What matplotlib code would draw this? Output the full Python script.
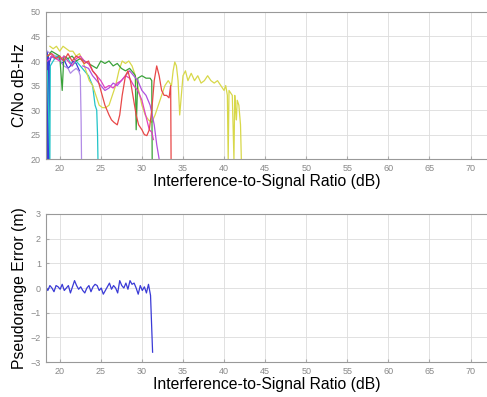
import matplotlib
matplotlib.use("Agg")
import matplotlib.pyplot as plt

plt.rcParams['font.family'] = ['Liberation Sans', 'DejaVu Sans']

# C/No traces (dB-Hz) vs interference-to-signal ratio (dB)
blue_x = [18.3, 18.35, 18.4, 18.45, 18.5, 18.55, 18.6, 18.7, 18.75, 18.8, 19.0, 19.4, 19.8, 20.2, 20.6, 21.0, 21.3, 21.6, 22.0, 22.4]
blue_y = [44, 43, 20, 42, 20, 41, 40, 20, 40, 40, 41, 40.5, 41, 39.5, 40, 38.5, 39, 40, 39.5, 38]

violet_x = [18.4, 19.0, 19.5, 20.0, 20.5, 21.0, 21.3, 21.6, 22.0, 22.3, 22.5, 22.6, 22.65]
violet_y = [42, 41.5, 41, 40, 39, 38.5, 37.5, 38, 38.5, 38, 37, 28, 20]

cyan_x = [18.5, 18.8, 18.85, 19.2, 19.6, 20.0, 20.5, 21.0, 21.5, 22.0, 22.5, 23.0, 23.5, 24.0, 24.3, 24.5, 24.6, 24.65]
cyan_y = [38, 20, 39, 40, 41, 40.5, 40, 40.5, 39, 40, 39, 38, 37, 35, 31, 30, 25, 20]

green_x = [18.6, 19.0, 19.5, 20.0, 20.3, 20.5, 21.0, 21.5, 22.0, 22.5, 23.0, 23.5, 24.0, 24.5, 25.0, 25.5, 26.0, 26.5,
           27.0, 27.5, 28.0, 28.5, 29.0, 29.2, 29.3, 29.5, 30.0, 30.5, 31.0, 31.2, 31.25]
green_y = [41, 42, 41.5, 41, 34, 41, 40.5, 41, 40, 40.5, 40, 39.5, 39, 38.5, 40, 39.5, 40, 39,
           39.5, 38.5, 38, 38.5, 37.5, 37, 26, 36.5, 37, 36.5, 36.5, 36, 20]

red_x = [18.4, 19.0, 19.5, 20.0, 20.5, 21.0, 21.5, 22.0, 22.5, 23.0, 23.5, 24.0, 24.5, 25.0, 25.5, 26.0, 26.3, 26.6,
         27.0, 27.3, 27.6, 28.0, 28.3, 28.6, 29.0, 29.3, 29.6, 30.0, 30.3, 30.6, 30.9, 31.2, 31.5, 31.8, 32.1, 32.4,
         32.7, 33.0, 33.3, 33.5, 33.55]
red_y = [41, 41.5, 40.5, 41, 40, 41.5, 40, 41, 40.5, 39.5, 40, 38, 37, 34, 31, 29, 28, 27.5,
         27, 29, 33, 37, 38, 36, 32, 29, 27, 26, 25, 24.8, 26, 30, 36, 39, 37, 34,
         33, 33, 32.5, 35, 20]

magenta_x = [18.5, 19.0, 19.5, 20.0, 20.5, 21.0, 21.5, 22.0, 22.5, 23.0, 23.5, 24.0, 24.5, 25.0, 25.5, 26.0, 26.5,
             27.0, 27.5, 28.0, 28.5, 29.0, 29.5, 30.0, 30.3, 30.6, 30.9, 31.2, 31.4]
magenta_y = [40, 41, 40.5, 40, 41, 40, 39, 40.5, 41, 40, 39.5, 38, 37, 36, 34.5, 35, 34.5,
             35.5, 36, 37, 36.5, 35, 34, 32, 30, 28, 26, 25.5, 24]

purple_x = [22.8, 23.5, 24.0, 24.5, 25.0, 25.5, 26.0, 26.5, 27.0, 27.5, 28.0, 28.5, 29.0, 29.5, 30.0, 30.5, 31.0,
            31.5, 31.8, 32.0, 32.1]
purple_y = [39, 38.5, 37, 36, 35, 34, 34.5, 35.5, 35, 36, 37, 38, 37, 36, 34, 33, 31,
            27, 23, 21, 20]

yellow_x = [18.8, 19.2, 19.6, 20.0, 20.4, 20.8, 21.2, 21.6, 22.0, 22.4, 22.8, 23.2, 23.6, 24.0, 24.4, 24.8, 25.2,
            25.6, 26.0, 26.4, 26.8, 27.2, 27.6, 28.0, 28.4, 28.8, 29.2, 29.6, 30.0, 30.4, 30.8, 31.2, 31.6, 32.0,
            32.4, 32.8, 33.2, 33.6, 33.8, 34.0, 34.2, 34.4, 34.6, 34.8, 35.0, 35.3, 35.6, 36.0, 36.4, 36.8, 37.2,
            37.6, 38.0, 38.4, 38.8, 39.2, 39.6, 40.0, 40.2, 40.4, 40.5, 40.6, 40.8, 41.0, 41.2, 41.3, 41.4, 41.5,
            41.6, 41.8, 42.0, 42.1]
yellow_y = [43, 42.5, 43, 42, 43, 42.5, 42, 42, 41, 41.5, 40, 38, 36, 35, 33, 31, 30.5,
            30.5, 31, 33, 35, 38, 40, 39.5, 40, 39, 37, 34, 31, 29, 28, 27.5, 29, 31,
            33, 35, 36, 35, 38, 39.8, 39, 36, 29, 33, 37, 38, 36, 37.5, 36, 37, 35.5,
            36, 37, 36, 35.5, 36, 35, 34, 35, 33, 20, 34, 33.5, 33, 20, 33, 30, 28,
            32, 31, 27, 20]

cno_series = [
    (blue_x, blue_y, '#3a3ad6'),
    (violet_x, violet_y, '#b28ce6'),
    (cyan_x, cyan_y, '#22c4c8'),
    (yellow_x, yellow_y, '#d8d84a'),
    (green_x, green_y, '#3aa23a'),
    (purple_x, purple_y, '#b050e0'),
    (magenta_x, magenta_y, '#e040c0'),
    (red_x, red_y, '#e84848'),
]

# pseudorange error (m)
pr_x = [18.3, 18.55, 18.8, 19.05, 19.3, 19.55, 19.8, 20.05, 20.3, 20.55, 20.8, 21.05, 21.3, 21.55, 21.8,
        22.05, 22.3, 22.55, 22.8, 23.05, 23.3, 23.55, 23.8, 24.05, 24.3, 24.55, 24.8, 25.05, 25.3, 25.55,
        25.8, 26.05, 26.3, 26.55, 26.8, 27.05, 27.3, 27.55, 27.8, 28.05, 28.3, 28.55, 28.8, 29.05, 29.3,
        29.55, 29.8, 30.05, 30.3, 30.55, 30.8, 31.05, 31.3]
pr_y = [0.05, -0.1, 0.1, 0.0, -0.15, 0.1, 0.05, -0.05, 0.15, -0.1, 0.0, 0.1, -0.2, 0.05, 0.3,
        0.1, -0.05, 0.05, -0.1, -0.2, 0.0, 0.1, -0.15, 0.05, 0.15, 0.1, -0.1, 0.0, -0.25, -0.1,
        0.05, 0.2, -0.05, 0.1, 0.0, -0.2, 0.3, 0.1, 0.0, 0.2, -0.05, 0.3, 0.15, 0.2, 0.0,
        -0.25, 0.1, -0.1, 0.05, -0.2, 0.15, -0.3, -2.6]

xticks = [20, 25, 30, 35, 40, 45, 50, 55, 60, 65, 70]
xlabel = 'Interference-to-Signal Ratio (dB)'

fig = plt.figure(figsize=(4.87, 3.97), dpi=100)
ax1 = fig.add_axes([0.094, 0.599, 0.906, 0.371])
ax2 = fig.add_axes([0.094, 0.088, 0.906, 0.373])

for xs, ys, c in cno_series:
    ax1.plot(xs, ys, color=c, lw=0.9)
ax2.plot(pr_x, pr_y, color='#3a3ad6', lw=0.9)

ax1.set_ylim(20, 50)
ax1.set_yticks([20, 25, 30, 35, 40, 45, 50])
ax1.set_ylabel('C/No dB-Hz', fontsize=11.3, labelpad=3)
ax2.set_ylim(-3, 3)
ax2.set_yticks([-3, -2, -1, 0, 1, 2, 3])
ax2.set_ylabel('Pseudorange Error (m)', fontsize=11.3, labelpad=3)

for ax in (ax1, ax2):
    ax.set_xlim(18.3, 72)
    ax.set_xticks(xticks)
    ax.set_xlabel(xlabel, fontsize=11.3, labelpad=1)
    ax.grid(True, color='#dcdcdc', lw=0.6)
    ax.set_axisbelow(True)
    ax.tick_params(labelsize=6.5, labelcolor='#888888', color='#aaaaaa', length=2, direction='in')
    for s in ax.spines.values():
        s.set_color('#999999')
        s.set_linewidth(0.8)
    ax.spines['right'].set_visible(False)

fig.savefig('out.png', dpi=100)
